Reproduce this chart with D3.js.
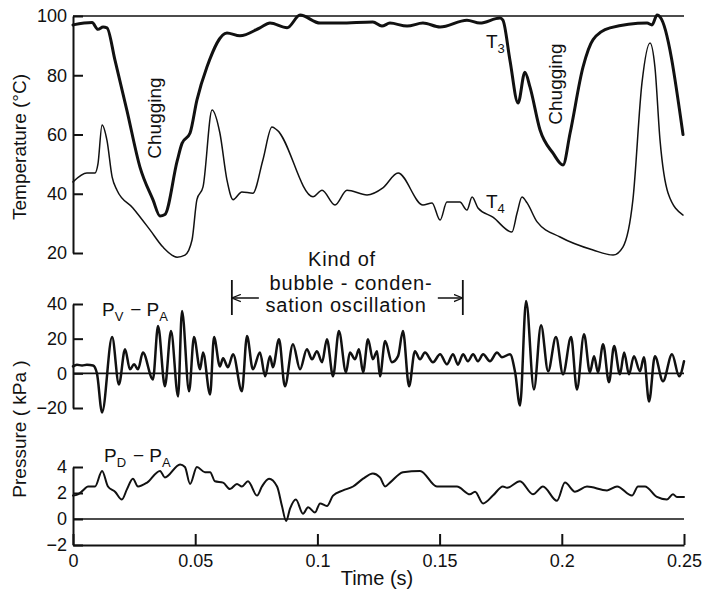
<!DOCTYPE html>
<html><head><meta charset="utf-8">
<script src="https://cdn.jsdelivr.net/npm/d3@7"></script>
<style>
html,body{margin:0;padding:0;background:#fff;}
svg{display:block;font-family:"Liberation Sans",Arial,sans-serif;}
</style></head>
<body><svg id="c" width="706" height="590"></svg>
<script>
// ---------- data ----------
const timeT3 = [0,0.0078,0.0102,0.0123,0.0139,0.0172,0.0221,0.0274,0.0327,0.0356,0.0376,0.0426,0.0446,0.0479,0.0507,0.0548,0.0630,0.0683,0.0765,0.0806,0.0876,0.0929,0.1011,0.1092,0.1227,0.1264,0.1297,0.1367,0.1432,0.1502,0.1612,0.1665,0.1747,0.1759,0.1788,0.1821,0.1849,0.1870,0.1911,0.1964,0.2005,0.2034,0.2087,0.2128,0.2197,0.2349,0.2369,0.2390,0.2402,0.2496];
const tempT3 = [97,97.8,95.5,96.3,96,85,68,49,38,32.5,33,51,57,60.5,71.6,82.8,94.3,93.3,96,97.6,96,100.3,97.6,97.6,98,96.6,97.6,96.6,97.6,96.3,98.6,97.6,99.3,98.6,85,70.6,81,76,61.5,53.7,49.7,60.5,82.8,92,96,97.6,97,100.3,99.7,60];

const timeT4 = [0,0.0057,0.0090,0.0102,0.0119,0.0139,0.0160,0.0180,0.0245,0.0315,0.0368,0.0426,0.0458,0.0487,0.0507,0.0532,0.0569,0.0601,0.0630,0.0655,0.0691,0.0736,0.0777,0.0814,0.0835,0.0982,0.1019,0.1072,0.1121,0.1203,0.1268,0.1330,0.1432,0.1469,0.1502,0.1530,0.1583,0.1612,0.1633,0.1657,0.1718,0.1796,0.1817,0.1837,0.1858,0.1899,0.1993,0.2128,0.2210,0.2250,0.2291,0.2328,0.2361,0.2381,0.2402,0.2435,0.2496];
const tempT4 = [44,47,47,50,63.2,58,45.7,41.2,35.2,27.8,22,18.6,19.3,24.4,38,42.3,68.3,60.5,44.6,38,40.6,40.2,51.4,62.5,61.5,39,41.2,36.2,41.2,39.6,42,47,36.2,36.9,31.1,37.2,37.2,34.5,38.9,35.2,32.1,27.1,33.5,38.9,36.9,30.5,25.4,21,19.3,22,38,77.4,90.9,82.8,58,40.2,32.8];

const timePv = [0,0.0016,0.0037,0.0057,0.0082,0.0098,0.0119,0.0160,0.0188,0.0213,0.0233,0.0250,0.0266,0.0286,0.0327,0.0348,0.0376,0.0401,0.0430,0.0446,0.0475,0.0495,0.0520,0.0532,0.0561,0.0577,0.0601,0.0614,0.0634,0.0655,0.0691,0.0712,0.0736,0.0765,0.0786,0.0806,0.0818,0.0843,0.0867,0.0900,0.0929,0.0957,0.0978,0.0998,0.1019,0.1039,0.1064,0.1088,0.1117,0.1133,0.1154,0.1170,0.1187,0.1207,0.1227,0.1244,0.1256,0.1277,0.1305,0.1330,0.1350,0.1375,0.1399,0.1420,0.1440,0.1473,0.1502,0.1530,0.1555,0.1575,0.1596,0.1616,0.1637,0.1657,0.1678,0.1706,0.1735,0.1755,0.1788,0.1809,0.1829,0.1854,0.1886,0.1915,0.1944,0.1976,0.2005,0.2038,0.2062,0.2091,0.2115,0.2132,0.2148,0.2169,0.2193,0.2214,0.2238,0.2255,0.2275,0.2295,0.2320,0.2336,0.2357,0.2381,0.2414,0.2451,0.2480,0.2500];
const presPv = [4,5,4.5,5,4.5,0,-22.6,20.9,-6.4,13.9,2.3,5.2,2.3,12,-3.5,27.3,-7.5,24.4,-13.3,36,-10.4,20.9,2.3,12,-12.2,20.9,4,8.7,3.5,11,-10.4,21.5,2.3,12,-1.7,9.9,3.5,19.7,-7.5,16.8,2.3,13.9,8.1,12.8,6.4,19.7,-1.7,24.4,0.6,12,8.1,13.9,0.6,19.7,8.1,12.8,-1.7,18.6,6.4,9.9,24.4,-7.5,12.8,8.1,12,6.4,11,5.2,11,5,11,7,11,7,11,7,12,9.3,11,0.6,-18.6,41.8,-9.3,27.8,1.2,20.9,-0.6,20.9,-9.3,22.6,0.6,9.9,0.6,16.8,-5.2,15.7,-0.6,12,-0.6,9.9,1.2,9.3,-16.2,9.9,-4.6,11,-1.7,7];

const timePd = [0,0.0020,0.0041,0.0061,0.0090,0.0119,0.0143,0.0172,0.0200,0.0221,0.0245,0.0266,0.0303,0.0356,0.0376,0.0438,0.0458,0.0479,0.0507,0.0540,0.0561,0.0581,0.0614,0.0642,0.0671,0.0691,0.0716,0.0753,0.0773,0.0802,0.0835,0.0855,0.0872,0.0888,0.0912,0.0941,0.0962,0.0990,0.1011,0.1039,0.1064,0.1105,0.1146,0.1187,0.1227,0.1256,0.1277,0.1297,0.1350,0.1420,0.1489,0.1571,0.1624,0.1645,0.1678,0.1718,0.1759,0.1776,0.1829,0.1882,0.1923,0.1980,0.2013,0.2054,0.2103,0.2185,0.2226,0.2287,0.2312,0.2340,0.2389,0.2430,0.2455,0.2471,0.2500];
const presPd = [1.8,1.9,2.2,2.5,2.5,3.7,2.5,2.1,1.5,2.3,3.1,2.5,2.8,3.7,3.2,4.2,4,2.7,4,3.6,3.6,2.9,2.8,2.3,2.7,2.5,2.9,1.8,2.5,3.1,2.5,1,-0.15,0.8,1.5,0.4,0.9,0.5,1.2,1,1.8,2.2,2.5,3.1,3.5,3.2,2.5,2.8,3.6,3.7,2.5,2.5,1.9,2.1,1.2,1.8,2.5,2.4,2.9,1.9,2.5,1.4,2.8,2.1,2.5,2.2,2.5,1.8,2.5,2.5,1.7,1.5,1.9,1.7,1.7];

const xTicks = [0,0.05,0.1,0.15,0.2,0.25];
const xTickLabels = ["0","0.05","0.1","0.15","0.2","0.25"];
const tempTicks = [20,40,60,80,100];
const pvTicks = [-20,0,20,40];
const pdTicks = [-2,0,2,4];
const bandStart = 0.065, bandEnd = 0.1595; // "kind of bubble-condensation oscillation"

// ---------- drawing ----------
const svg = d3.select("#c");
const FONT = '"Liberation Sans",Arial,sans-serif';
const INK = "#111";

const x = d3.scaleLinear().domain([0,0.25]).range([73,684]);
const yT = d3.scaleLinear().domain([20,100]).range([253,16]);
const yV = d3.scaleLinear().domain([-20,40]).range([408,304]);
const yD = d3.scaleLinear().domain([-2,4]).range([545,467]);

function styleAxis(g){
  g.select(".domain").attr("stroke",INK).attr("stroke-width",2);
  g.selectAll(".tick line").attr("stroke",INK).attr("stroke-width",2);
  g.selectAll(".tick text").attr("fill",INK).style("font-size","18px").style("font-family",FONT);
}

// left axes
svg.append("g").attr("transform","translate(73,0)")
  .call(d3.axisLeft(yT).tickValues(tempTicks).tickSizeInner(-10).tickSizeOuter(0).tickPadding(6).tickFormat(d3.format("d")))
  .call(styleAxis);
svg.append("g").attr("transform","translate(73,0)")
  .call(d3.axisLeft(yV).tickValues(pvTicks).tickSizeInner(-10).tickSizeOuter(0).tickPadding(6).tickFormat(d3.format("d")))
  .call(styleAxis);
svg.append("g").attr("transform","translate(73,0)")
  .call(d3.axisLeft(yD).tickValues(pdTicks).tickSizeInner(-10).tickSizeOuter(0).tickPadding(6).tickFormat(d3.format("d")))
  .call(styleAxis);
// bottom axis
svg.append("g").attr("transform","translate(0,545)")
  .call(d3.axisBottom(x).tickValues(xTicks).tickSizeInner(-11).tickSizeOuter(0).tickPadding(9).tickFormat((d,i)=>xTickLabels[i]))
  .call(styleAxis);

// reference lines
svg.append("line").attr("x1",x(0)).attr("x2",x(0.25)).attr("y1",yT(100)).attr("y2",yT(100)).attr("stroke",INK).attr("stroke-width",1.6);
svg.append("line").attr("x1",x(0)).attr("x2",x(0.25)).attr("y1",yV(0)).attr("y2",yV(0)).attr("stroke",INK).attr("stroke-width",1.8);
svg.append("line").attr("x1",x(0)).attr("x2",x(0.25)).attr("y1",yD(0)).attr("y2",yD(0)).attr("stroke",INK).attr("stroke-width",1.6);

function drawLine(ts, vs, y, w, curve){
  const line = d3.line().x(d=>x(d[0])).y(d=>y(d[1])).curve(curve);
  svg.append("path").datum(ts.map((t,i)=>[t,vs[i]]))
    .attr("d",line).attr("fill","none").attr("stroke",INK)
    .attr("stroke-width",w).attr("stroke-linejoin","round").attr("stroke-linecap","round");
}
drawLine(timeT4, tempT4, yT, 1.5, d3.curveMonotoneX);
drawLine(timeT3, tempT3, yT, 3, d3.curveMonotoneX);
drawLine(timePv, presPv, yV, 2.5, d3.curveMonotoneX);
drawLine(timePd, presPd, yD, 2, d3.curveMonotoneX);

// axis titles
svg.append("text").attr("transform","translate(26,147) rotate(-90)").attr("text-anchor","middle")
  .style("font-size","19px").attr("fill",INK).text("Temperature (°C)");
svg.append("text").attr("transform","translate(26,429) rotate(-90)").attr("text-anchor","middle")
  .style("font-size","19px").attr("fill",INK).text("Pressure ( kPa )");
svg.append("text").attr("x",377).attr("y",585).attr("text-anchor","middle")
  .style("font-size","20px").attr("fill",INK).text("Time (s)");

// annotations
svg.append("text").attr("transform","translate(161,118) rotate(-90)").attr("text-anchor","middle")
  .style("font-size","19px").attr("fill",INK).text("Chugging");
svg.append("text").attr("transform","translate(562,84) rotate(-90)").attr("text-anchor","middle")
  .style("font-size","19px").attr("fill",INK).text("Chugging");

function subLabel(px, py, parts){
  const t = svg.append("text").attr("x",px).attr("y",py).attr("fill",INK).style("font-size","19px");
  parts.forEach(p=>{
    if(p.sub){ t.append("tspan").attr("dy",5).style("font-size","13px").text(p.s);
               t.append("tspan").attr("dy",-5).text("\u200a"); }
    else t.append("tspan").text(p.s);
  });
}
subLabel(486, 48, [{s:"T"},{s:"3",sub:true}]);
subLabel(486, 208, [{s:"T"},{s:"4",sub:true}]);
subLabel(102, 316, [{s:"P"},{s:"V",sub:true},{s:" \u2212 P"},{s:"A",sub:true}]);
subLabel(104, 462, [{s:"P"},{s:"D",sub:true},{s:" \u2212 P"},{s:"A",sub:true}]);

const noteStyle = t => t.attr("text-anchor","middle").style("font-size","20px").style("letter-spacing","0.8px").attr("fill",INK);
svg.append("text").attr("x",342).attr("y",266).call(noteStyle).text("Kind of");
svg.append("text").attr("x",351).attr("y",290).call(noteStyle).text("bubble - conden-");
svg.append("text").attr("x",346).attr("y",312).call(noteStyle).text("sation oscillation");

// range arrows
const defs = svg.append("defs");
defs.append("marker").attr("id","ah").attr("viewBox","0 0 10 10").attr("refX",10).attr("refY",5)
  .attr("markerWidth",9).attr("markerHeight",9).attr("markerUnits","userSpaceOnUse").attr("orient","auto")
  .append("path").attr("d","M0,1 L10,5 L0,9").attr("fill","none").attr("stroke",INK).attr("stroke-width",1.4);
const aY = 298;
[[bandStart, 27],[bandEnd,-25]].forEach(([t,len])=>{
  const xb = x(t);
  svg.append("line").attr("x1",xb).attr("x2",xb).attr("y1",280).attr("y2",315).attr("stroke",INK).attr("stroke-width",1.8);
  svg.append("line").attr("x1",xb+len).attr("x2",xb).attr("y1",aY).attr("y2",aY).attr("stroke",INK).attr("stroke-width",1.5).attr("marker-end","url(#ah)");
});
</script></body></html>
